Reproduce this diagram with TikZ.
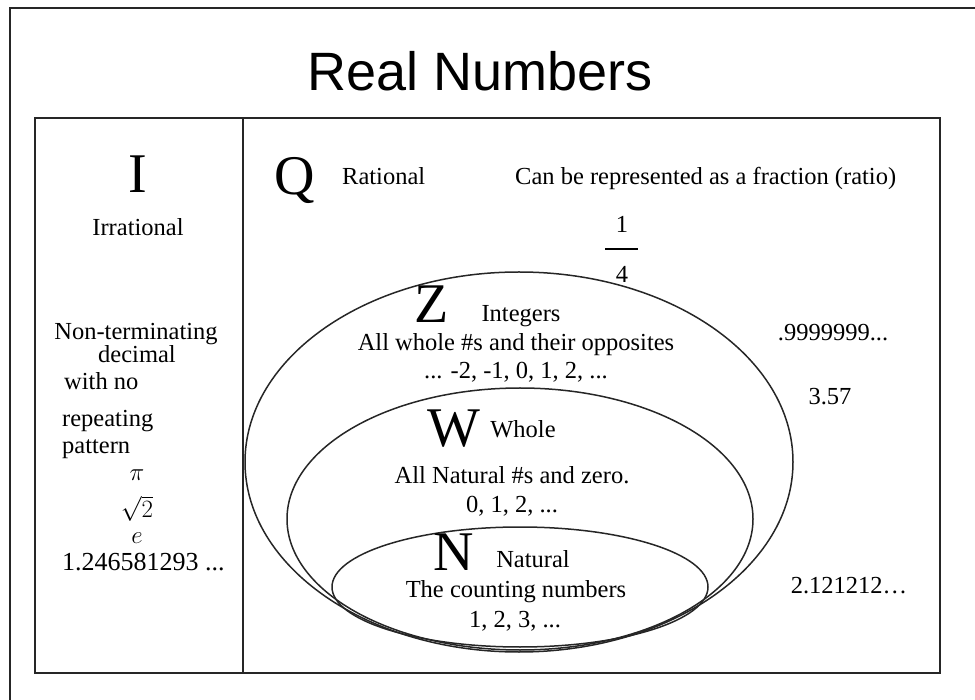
\documentclass[tikz,border=0pt]{standalone}
\usepackage{fontspec}
\setmainfont{Liberation Serif}
\newfontfamily\titlefont{Liberation Sans}
\tikzset{
  txt/.style={anchor=base, inner sep=0pt, font=\fontsize{24.5}{28}\selectfont},
  txtl/.style={anchor=base west, inner sep=0pt, font=\fontsize{24.5}{28}\selectfont},
  mth/.style={anchor=base, inner sep=0pt, font=\fontsize{27}{30}\selectfont},
  big/.style={anchor=base, inner sep=0pt, font=\fontsize{56}{60}\selectfont},
  frame/.style={line width=2pt, draw=black!85},
  oval/.style={line width=1.5pt, draw=black!85},
}
\begin{document}
\begin{tikzpicture}[x=1pt,y=-1pt]
\useasboundingbox (0,0) rectangle (975,700);
% outer frame (runs off the picture at right and bottom)
\draw[frame] (10,710) -- (10,8) -- (985,8);
% inner box and divider
\draw[frame] (35,118) rectangle (940,673);
\draw[frame] (243,118) -- (243,673);
% title
\node[anchor=base, inner sep=0pt, font=\titlefont\fontsize{54}{58}\selectfont] (title) at (480,91) {Real Numbers};
% left column
\node[big] (I) at (138,193) {I};
\node[txt] (irr) at (138,236) {Irrational};
\node[txt] (nt) at (136,340) {Non-terminating};
\node[txt] (dec) at (137,363) {decimal};
\node[txtl] (wn) at (64,390) {with no};
\node[txtl] (rep) at (62,427) {repeating};
\node[txtl] (pat) at (62,454) {pattern};
\node[mth] (pi) at (137,480) {$\pi$};
\node[mth] (sq) at (137,518) {$\sqrt{2}$};
\node[mth] (e) at (137,543) {$e$};
\node[txtl, font=\fontsize{26}{28}\selectfont] (num) at (62,570) {1.246581293 ...};
% ellipses
\draw[oval] (519,462) ellipse [x radius=274, y radius=190];
\draw[oval] (520,519) ellipse [x radius=233, y radius=131];
\draw[oval] (520,587) ellipse [x radius=188, y radius=60];
% Q region
\node[big] (Q) at (295,195) {Q};
\node[txtl] (rat) at (342,185) {Rational};
\node[txtl] (can) at (515,185) {Can be represented as a fraction (ratio)};
\node[txt] (one) at (622,233) {1};
\draw[line width=1.3pt] (605,249) -- (638,249);
\node[txt] (four) at (622,283) {4};
\node[txt] (n9) at (833,341) {.9999999...};
\node[txt] (n357) at (830,405) {3.57};
\node[txt] (n212) at (849,593) {2.121212…};
% Z region
\node[big] (Z) at (432,323) {Z};
\node[txt] (int) at (521,322) {Integers};
\node[txt] (zd) at (516,351) {All whole \#s and their opposites};
\node[txt] (zx) at (516,379) {... -2, -1, 0, 1, 2, ...};
% W region
\node[big] (W) at (454,447) {W};
\node[txt] (wh) at (523,438) {Whole};
\node[txt] (wd) at (512,483) {All Natural \#s and zero.};
\node[txt] (wx) at (512,512) {0, 1, 2, ...};
% N region
\node[big] (N) at (454,570) {N};
\node[txt] (nat) at (533,567) {Natural};
\node[txt] (nd) at (516,597) {The counting numbers};
\node[txt] (nx) at (515,627) {1, 2, 3, ...};
\end{tikzpicture}
\end{document}
